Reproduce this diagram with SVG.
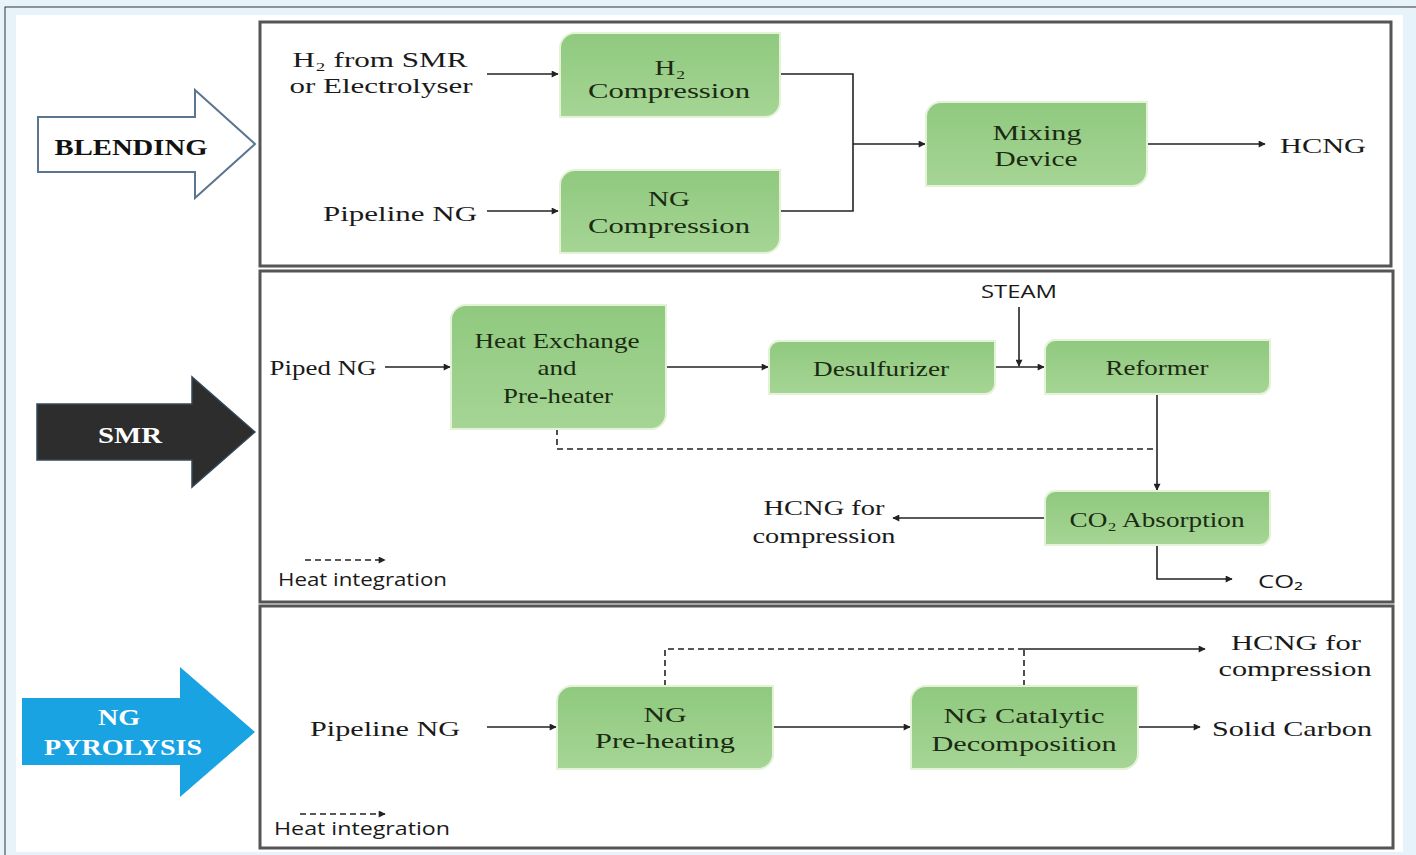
<svg xmlns="http://www.w3.org/2000/svg" width="1416" height="855" viewBox="0 0 1416 855">
<defs>
<linearGradient id="g" x1="0" y1="0" x2="0" y2="1">
<stop offset="0" stop-color="#8fc97e"/>
<stop offset="1" stop-color="#a6d595"/>
</linearGradient>
<marker id="ah" viewBox="0 0 10 10" refX="9" refY="5" markerWidth="8" markerHeight="7" markerUnits="userSpaceOnUse" orient="auto">
<path d="M0,0 L10,5 L0,10 Z" fill="#222"/>
</marker>
<style>
.panel{fill:#fff;stroke:#555;stroke-width:3}
.box{fill:url(#g);stroke:#e4f2d8;stroke-width:2}
.t{font-family:"Liberation Serif","Times New Roman",serif;font-size:22px;fill:#1a1a1a;text-anchor:middle}
.bt{font-family:"Liberation Serif","Times New Roman",serif;font-size:22px;fill:#1b2a12;text-anchor:middle}
.s{font-family:"Open Sans","Liberation Sans",sans-serif;font-size:18px;fill:#1a1a1a}
.hd{font-family:"Liberation Serif","Times New Roman",serif;font-size:24px;font-weight:bold;text-anchor:middle}
.ln{fill:none;stroke:#222;stroke-width:1.6}
.ar{fill:none;stroke:#222;stroke-width:1.6;marker-end:url(#ah)}
.ds{fill:none;stroke:#222;stroke-width:1.6;stroke-dasharray:6 4}
</style>
</defs>
<rect x="0" y="0" width="1416" height="855" fill="#e6f3fb"/>
<rect x="5" y="7" width="1416" height="860" fill="none" stroke="#333" stroke-width="1"/>
<rect x="16" y="15" width="1387" height="837" fill="#fff"/>

<g id="panel-blending"><rect class="panel" x="260" y="22" width="1131" height="244"/></g>
<g id="panel-smr"><rect class="panel" x="260" y="271" width="1133" height="331"/></g>
<g id="panel-pyrolysis"><rect class="panel" x="260" y="606" width="1133" height="242"/></g>

<g id="arrow-blending">
<polygon points="38,117 195,117 195,90 255,144 195,198 195,172 38,172" fill="#fff" stroke="#5a7590" stroke-width="2"/>
<text class="hd" transform="translate(131,155) scale(1.2,1)" fill="#111" textLength="127.5" lengthAdjust="spacingAndGlyphs">BLENDING</text>
</g>
<g id="arrow-smr">
<polygon points="37,404 192,404 192,377 255,432 192,487 192,460 37,460" fill="#2d2d2d" stroke="#34485a" stroke-width="1.5"/>
<text class="hd" transform="translate(130,443) scale(1.2,1)" fill="#fff" textLength="53.3" lengthAdjust="spacingAndGlyphs">SMR</text>
</g>
<g id="arrow-pyrolysis">
<polygon points="22,698 180,698 180,667 255,732 180,797 180,765 22,765" fill="#1aa3e3"/>
<text class="hd" transform="translate(119,725) scale(1.2,1)" fill="#fff" textLength="35" lengthAdjust="spacingAndGlyphs">NG</text>
<text class="hd" transform="translate(123,755) scale(1.2,1)" fill="#fff" textLength="131.7" lengthAdjust="spacingAndGlyphs">PYROLYSIS</text>
</g>

<g id="connectors">
<path class="ar" d="M487,74 H558"/>
<path class="ar" d="M487,211 H558"/>
<path class="ln" d="M780,74 H853 V211 H780"/>
<path class="ar" d="M853,144 H925"/>
<path class="ar" d="M1147,144 H1265"/>
<path class="ar" d="M385,367 H450"/>
<path class="ar" d="M666,367 H768"/>
<path class="ar" d="M995,367 H1044"/>
<path class="ar" d="M1019,307 V366"/>
<path class="ar" d="M1157,394 V490"/>
<path class="ds" d="M557,429 V449 H1157"/>
<path class="ar" d="M1045,518 H893"/>
<path class="ar" d="M1157,545 V579 H1232"/>
<path class="ar" d="M305,560 H385" stroke-dasharray="6 4"/>
<path class="ar" d="M487,727 H556"/>
<path class="ar" d="M773,727 H910"/>
<path class="ds" d="M665,686 V649 H1024"/>
<path class="ds" d="M1024,686 V649" stroke-width="2.5"/>
<path class="ar" d="M1024,649 H1205"/>
<path class="ar" d="M1138,727 H1200"/>
<path class="ar" d="M300,814 H385" stroke-dasharray="6 4"/>
</g>

<g id="node-h2-compression">
<path class="box" d="M560,48 A15,15 0 0 1 575,33 H780 V102 A15,15 0 0 1 765,117 H560 Z"/>
<text class="bt" transform="translate(670,75) scale(1.38,1)" textLength="22.5" lengthAdjust="spacingAndGlyphs">H₂</text>
<text class="bt" transform="translate(669,98) scale(1.38,1)" textLength="117.4" lengthAdjust="spacingAndGlyphs">Compression</text>
</g>
<g id="node-ng-compression">
<path class="box" d="M560,185 A15,15 0 0 1 575,170 H780 V238 A15,15 0 0 1 765,253 H560 Z"/>
<text class="bt" transform="translate(669,206) scale(1.38,1)" textLength="30.4" lengthAdjust="spacingAndGlyphs">NG</text>
<text class="bt" transform="translate(669,233) scale(1.38,1)" textLength="117.4" lengthAdjust="spacingAndGlyphs">Compression</text>
</g>
<g id="node-mixing">
<path class="box" d="M926,117 A15,15 0 0 1 941,102 H1147 V171 A15,15 0 0 1 1132,186 H926 Z"/>
<text class="bt" transform="translate(1037,140) scale(1.38,1)" textLength="64.5" lengthAdjust="spacingAndGlyphs">Mixing</text>
<text class="bt" transform="translate(1036,166) scale(1.38,1)" textLength="60.1" lengthAdjust="spacingAndGlyphs">Device</text>
</g>
<g id="node-heat-exchange">
<path class="box" d="M451,320 A15,15 0 0 1 466,305 H666 V414 A15,15 0 0 1 651,429 H451 Z"/>
<text class="bt" transform="translate(557,348) scale(1.38,1)" textLength="119.6" lengthAdjust="spacingAndGlyphs">Heat Exchange</text>
<text class="bt" transform="translate(557,375) scale(1.38,1)" textLength="28.3" lengthAdjust="spacingAndGlyphs">and</text>
<text class="bt" transform="translate(558,403) scale(1.38,1)" textLength="79.7" lengthAdjust="spacingAndGlyphs">Pre-heater</text>
</g>
<g id="node-desulfurizer">
<path class="box" d="M769,351 A10,10 0 0 1 779,341 H995 V384 A10,10 0 0 1 985,394 H769 Z"/>
<text class="bt" transform="translate(881,376) scale(1.38,1)" textLength="98.6" lengthAdjust="spacingAndGlyphs">Desulfurizer</text>
</g>
<g id="node-reformer">
<path class="box" d="M1045,350 A10,10 0 0 1 1055,340 H1270 V384 A10,10 0 0 1 1260,394 H1045 Z"/>
<text class="bt" transform="translate(1157,375) scale(1.38,1)" textLength="74.6" lengthAdjust="spacingAndGlyphs">Reformer</text>
</g>
<g id="node-co2-absorption">
<path class="box" d="M1045,501 A10,10 0 0 1 1055,491 H1270 V535 A10,10 0 0 1 1260,545 H1045 Z"/>
<text class="bt" transform="translate(1157,527) scale(1.38,1)" textLength="126.8" lengthAdjust="spacingAndGlyphs">CO₂ Absorption</text>
</g>
<g id="node-ng-preheating">
<path class="box" d="M557,701 A15,15 0 0 1 572,686 H773 V754 A15,15 0 0 1 758,769 H557 Z"/>
<text class="bt" transform="translate(665,722) scale(1.38,1)" textLength="31.2" lengthAdjust="spacingAndGlyphs">NG</text>
<text class="bt" transform="translate(665,748) scale(1.38,1)" textLength="101.4" lengthAdjust="spacingAndGlyphs">Pre-heating</text>
</g>
<g id="node-ng-catalytic">
<path class="box" d="M911,701 A15,15 0 0 1 926,686 H1138 V754 A15,15 0 0 1 1123,769 H911 Z"/>
<text class="bt" transform="translate(1024,723) scale(1.38,1)" textLength="116.7" lengthAdjust="spacingAndGlyphs">NG Catalytic</text>
<text class="bt" transform="translate(1024,751) scale(1.38,1)" textLength="134.1" lengthAdjust="spacingAndGlyphs">Decomposition</text>
</g>

<g id="labels">
<text class="t" transform="translate(380,67) scale(1.38,1)" textLength="126.8" lengthAdjust="spacingAndGlyphs">H₂ from SMR</text>
<text class="t" transform="translate(381,93) scale(1.38,1)" textLength="132.6" lengthAdjust="spacingAndGlyphs">or Electrolyser</text>
<text class="t" transform="translate(400,221) scale(1.38,1)" textLength="111.6" lengthAdjust="spacingAndGlyphs">Pipeline NG</text>
<text class="t" transform="translate(1323,153) scale(1.38,1)" textLength="62.3" lengthAdjust="spacingAndGlyphs">HCNG</text>
<text class="s" transform="translate(981,298) scale(1.25,1)" font-size="20" textLength="60.8" lengthAdjust="spacingAndGlyphs">STEAM</text>
<text class="t" transform="translate(323,375) scale(1.38,1)" textLength="77.5" lengthAdjust="spacingAndGlyphs">Piped NG</text>
<text class="t" transform="translate(824,515) scale(1.38,1)" textLength="87.7" lengthAdjust="spacingAndGlyphs">HCNG for</text>
<text class="t" transform="translate(824,543) scale(1.38,1)" textLength="103.6" lengthAdjust="spacingAndGlyphs">compression</text>
<text class="s" transform="translate(1258,588) scale(1.25,1)" font-size="20" textLength="36" lengthAdjust="spacingAndGlyphs">CO₂</text>
<text class="s" transform="translate(278,586) scale(1.25,1)" textLength="135.2" lengthAdjust="spacingAndGlyphs">Heat integration</text>
<text class="t" transform="translate(385,736) scale(1.38,1)" textLength="108.7" lengthAdjust="spacingAndGlyphs">Pipeline NG</text>
<text class="t" transform="translate(1296,650) scale(1.38,1)" textLength="94.2" lengthAdjust="spacingAndGlyphs">HCNG for</text>
<text class="t" transform="translate(1295,676) scale(1.38,1)" textLength="110.9" lengthAdjust="spacingAndGlyphs">compression</text>
<text class="t" transform="translate(1292,736) scale(1.38,1)" textLength="115.9" lengthAdjust="spacingAndGlyphs">Solid Carbon</text>
<text class="s" transform="translate(274,835) scale(1.25,1)" textLength="140.8" lengthAdjust="spacingAndGlyphs">Heat integration</text>
</g>
</svg>
